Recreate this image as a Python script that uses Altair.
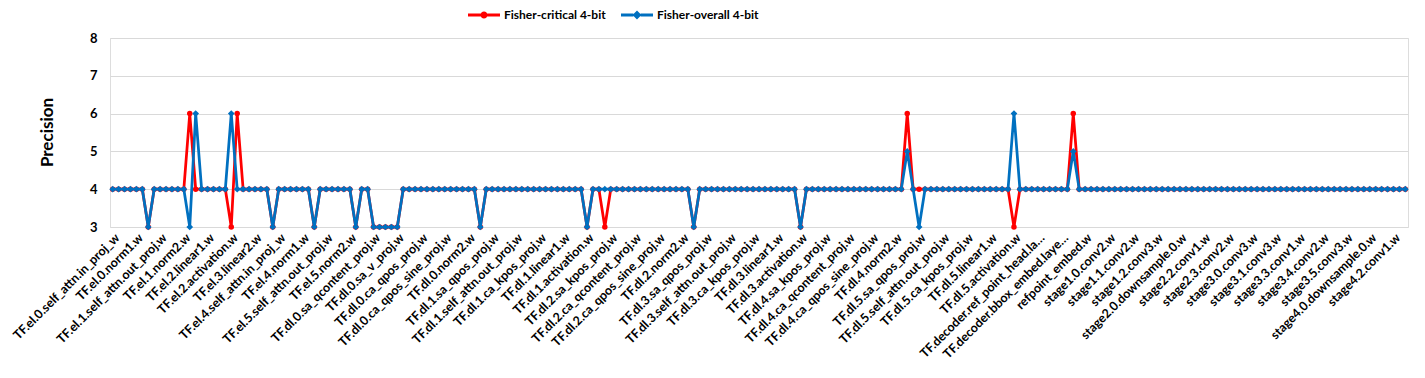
import altair as alt
import pandas as pd

# ---------------- data ----------------
CATEGORIES = [
    # encoder layers
    "TF.el.0.self_attn.in_proj_w", "TF.el.0.self_attn.out_proj.w", "TF.el.0.linear1.w", "TF.el.0.linear2.w", "TF.el.0.norm1.w", "TF.el.0.norm2.w", "TF.el.0.activation.w",
    "TF.el.1.self_attn.in_proj_w", "TF.el.1.self_attn.out_proj.w", "TF.el.1.linear1.w", "TF.el.1.linear2.w", "TF.el.1.norm1.w", "TF.el.1.norm2.w", "TF.el.1.activation.w",
    "TF.el.2.self_attn.in_proj_w", "TF.el.2.self_attn.out_proj.w", "TF.el.2.linear1.w", "TF.el.2.linear2.w", "TF.el.2.norm1.w", "TF.el.2.norm2.w", "TF.el.2.activation.w",
    "TF.el.3.self_attn.in_proj_w", "TF.el.3.self_attn.out_proj.w", "TF.el.3.linear1.w", "TF.el.3.linear2.w", "TF.el.3.norm1.w", "TF.el.3.norm2.w", "TF.el.3.activation.w",
    "TF.el.4.self_attn.in_proj_w", "TF.el.4.self_attn.out_proj.w", "TF.el.4.linear1.w", "TF.el.4.linear2.w", "TF.el.4.norm1.w", "TF.el.4.norm2.w", "TF.el.4.activation.w",
    "TF.el.5.self_attn.in_proj_w", "TF.el.5.self_attn.out_proj.w", "TF.el.5.linear1.w", "TF.el.5.linear2.w", "TF.el.5.norm1.w", "TF.el.5.norm2.w", "TF.el.5.activation.w",
    "TF.encoder.query_scale.layers.0.w", "TF.encoder.query_scale.layers.1.w",
    # decoder layer 0
    "TF.dl.0.sa_qcontent_proj.w", "TF.dl.0.sa_qpos_proj.w", "TF.dl.0.sa_kcontent_proj.w", "TF.dl.0.sa_kpos_proj.w", "TF.dl.0.sa_v_proj.w",
    "TF.dl.0.self_attn.out_proj.w", "TF.dl.0.norm1.w", "TF.dl.0.ca_qcontent_proj.w", "TF.dl.0.ca_qpos_proj.w", "TF.dl.0.ca_kcontent_proj.w",
    "TF.dl.0.ca_kpos_proj.w", "TF.dl.0.ca_v_proj.w", "TF.dl.0.ca_qpos_sine_proj.w", "TF.dl.0.cross_attn.out_proj.w", "TF.dl.0.linear1.w",
    "TF.dl.0.linear2.w", "TF.dl.0.norm2.w", "TF.dl.0.norm3.w", "TF.dl.0.activation.w",
    # decoder layer 1
    "TF.dl.1.sa_qcontent_proj.w", "TF.dl.1.sa_qpos_proj.w", "TF.dl.1.sa_kcontent_proj.w", "TF.dl.1.sa_kpos_proj.w", "TF.dl.1.sa_v_proj.w",
    "TF.dl.1.self_attn.out_proj.w", "TF.dl.1.norm1.w", "TF.dl.1.ca_qcontent_proj.w", "TF.dl.1.ca_kcontent_proj.w", "TF.dl.1.ca_kpos_proj.w",
    "TF.dl.1.ca_v_proj.w", "TF.dl.1.ca_qpos_sine_proj.w", "TF.dl.1.cross_attn.out_proj.w", "TF.dl.1.linear1.w", "TF.dl.1.linear2.w",
    "TF.dl.1.norm2.w", "TF.dl.1.norm3.w", "TF.dl.1.activation.w",
    # decoder layer 2
    "TF.dl.2.sa_qcontent_proj.w", "TF.dl.2.sa_qpos_proj.w", "TF.dl.2.sa_kcontent_proj.w", "TF.dl.2.sa_kpos_proj.w", "TF.dl.2.sa_v_proj.w",
    "TF.dl.2.self_attn.out_proj.w", "TF.dl.2.norm1.w", "TF.dl.2.ca_qcontent_proj.w", "TF.dl.2.ca_kcontent_proj.w", "TF.dl.2.ca_kpos_proj.w",
    "TF.dl.2.ca_v_proj.w", "TF.dl.2.ca_qpos_sine_proj.w", "TF.dl.2.cross_attn.out_proj.w", "TF.dl.2.linear1.w", "TF.dl.2.linear2.w",
    "TF.dl.2.norm2.w", "TF.dl.2.norm3.w", "TF.dl.2.activation.w",
    # decoder layer 3
    "TF.dl.3.sa_qcontent_proj.w", "TF.dl.3.sa_qpos_proj.w", "TF.dl.3.sa_kcontent_proj.w", "TF.dl.3.sa_kpos_proj.w", "TF.dl.3.sa_v_proj.w",
    "TF.dl.3.self_attn.out_proj.w", "TF.dl.3.norm1.w", "TF.dl.3.ca_qcontent_proj.w", "TF.dl.3.ca_kcontent_proj.w", "TF.dl.3.ca_kpos_proj.w",
    "TF.dl.3.ca_v_proj.w", "TF.dl.3.ca_qpos_sine_proj.w", "TF.dl.3.cross_attn.out_proj.w", "TF.dl.3.linear1.w", "TF.dl.3.linear2.w",
    "TF.dl.3.norm2.w", "TF.dl.3.norm3.w", "TF.dl.3.activation.w",
    # decoder layer 4
    "TF.dl.4.sa_qcontent_proj.w", "TF.dl.4.sa_qpos_proj.w", "TF.dl.4.sa_kcontent_proj.w", "TF.dl.4.sa_kpos_proj.w", "TF.dl.4.sa_v_proj.w",
    "TF.dl.4.self_attn.out_proj.w", "TF.dl.4.norm1.w", "TF.dl.4.ca_qcontent_proj.w", "TF.dl.4.ca_kcontent_proj.w", "TF.dl.4.ca_kpos_proj.w",
    "TF.dl.4.ca_v_proj.w", "TF.dl.4.ca_qpos_sine_proj.w", "TF.dl.4.cross_attn.out_proj.w", "TF.dl.4.linear1.w", "TF.dl.4.linear2.w",
    "TF.dl.4.norm2.w", "TF.dl.4.norm3.w", "TF.dl.4.activation.w",
    # decoder layer 5
    "TF.dl.5.sa_qcontent_proj.w", "TF.dl.5.sa_qpos_proj.w", "TF.dl.5.sa_kcontent_proj.w", "TF.dl.5.sa_kpos_proj.w", "TF.dl.5.sa_v_proj.w",
    "TF.dl.5.self_attn.out_proj.w", "TF.dl.5.norm1.w", "TF.dl.5.ca_qcontent_proj.w", "TF.dl.5.ca_kcontent_proj.w", "TF.dl.5.ca_kpos_proj.w",
    "TF.dl.5.ca_v_proj.w", "TF.dl.5.ca_qpos_sine_proj.w", "TF.dl.5.cross_attn.out_proj.w", "TF.dl.5.linear1.w", "TF.dl.5.linear2.w",
    "TF.dl.5.norm2.w", "TF.dl.5.norm3.w", "TF.dl.5.activation.w",
    # decoder heads
    "TF.decoder.norm.w", "TF.decoder.query_scale.layers.0.w", "TF.decoder.query_scale.layers.1.w",
    "TF.decoder.ref_point_head.layers.0.w", "TF.decoder.ref_point_head.layers.1.w",
    "TF.decoder.bbox_embed.layers.0.w", "TF.decoder.bbox_embed.layers.1.w", "TF.decoder.bbox_embed.layers.2.w",
    "class_embed.w", "input_proj.w", "label_enc.w", "refpoint_embed.w", "backbone.conv1.w", "backbone.bn1.w",
    # backbone
    "stage1.0.conv1.w", "stage1.0.conv2.w", "stage1.0.conv3.w", "stage1.0.downsample.0.w",
    "stage1.1.conv1.w", "stage1.1.conv2.w", "stage1.1.conv3.w",
    "stage1.2.conv1.w", "stage1.2.conv2.w", "stage1.2.conv3.w",
    "stage2.0.conv1.w", "stage2.0.conv2.w", "stage2.0.conv3.w", "stage2.0.downsample.0.w",
    "stage2.1.conv1.w", "stage2.1.conv2.w", "stage2.1.conv3.w",
    "stage2.2.conv1.w", "stage2.2.conv2.w", "stage2.2.conv3.w",
    "stage2.3.conv1.w", "stage2.3.conv2.w", "stage2.3.conv3.w",
    "stage3.0.conv1.w", "stage3.0.conv2.w", "stage3.0.conv3.w", "stage3.0.downsample.0.w",
    "stage3.1.conv1.w", "stage3.1.conv2.w", "stage3.1.conv3.w",
    "stage3.2.conv1.w", "stage3.2.conv2.w", "stage3.2.conv3.w",
    "stage3.3.conv1.w", "stage3.3.conv2.w", "stage3.3.conv3.w",
    "stage3.4.conv1.w", "stage3.4.conv2.w", "stage3.4.conv3.w",
    "stage3.5.conv1.w", "stage3.5.conv2.w", "stage3.5.conv3.w",
    "stage4.0.conv1.w", "stage4.0.conv2.w", "stage4.0.conv3.w", "stage4.0.downsample.0.w",
    "stage4.1.conv1.w", "stage4.1.conv2.w", "stage4.1.conv3.w",
    "stage4.2.conv1.w", "stage4.2.conv2.w", "stage4.2.conv3.w",
]

FISHER_CRITICAL = [
    4, 4, 4, 4, 4, 4, 3, 4, 4, 4, 4, 4, 4, 6, 4, 4, 4, 4, 4, 4,
    3, 6, 4, 4, 4, 4, 4, 3, 4, 4, 4, 4, 4, 4, 3, 4, 4, 4, 4, 4,
    4, 3, 4, 4, 3, 3, 3, 3, 3, 4, 4, 4, 4, 4, 4, 4, 4, 4, 4, 4,
    4, 4, 3, 4, 4, 4, 4, 4, 4, 4, 4, 4, 4, 4, 4, 4, 4, 4, 4, 4,
    3, 4, 4, 3, 4, 4, 4, 4, 4, 4, 4, 4, 4, 4, 4, 4, 4, 4, 3, 4,
    4, 4, 4, 4, 4, 4, 4, 4, 4, 4, 4, 4, 4, 4, 4, 4, 3, 4, 4, 4,
    4, 4, 4, 4, 4, 4, 4, 4, 4, 4, 4, 4, 4, 4, 6, 4, 4, 4, 4, 4,
    4, 4, 4, 4, 4, 4, 4, 4, 4, 4, 4, 4, 3, 4, 4, 4, 4, 4, 4, 4,
    4, 4, 6, 4, 4, 4, 4, 4, 4, 4, 4, 4, 4, 4, 4, 4, 4, 4, 4, 4,
    4, 4, 4, 4, 4, 4, 4, 4, 4, 4, 4, 4, 4, 4, 4, 4, 4, 4, 4, 4,
    4, 4, 4, 4, 4, 4, 4, 4, 4, 4, 4, 4, 4, 4, 4, 4, 4, 4, 4,
]

FISHER_OVERALL = [
    4, 4, 4, 4, 4, 4, 3, 4, 4, 4, 4, 4, 4, 3, 6, 4, 4, 4, 4, 4,
    6, 4, 4, 4, 4, 4, 4, 3, 4, 4, 4, 4, 4, 4, 3, 4, 4, 4, 4, 4,
    4, 3, 4, 4, 3, 3, 3, 3, 3, 4, 4, 4, 4, 4, 4, 4, 4, 4, 4, 4,
    4, 4, 3, 4, 4, 4, 4, 4, 4, 4, 4, 4, 4, 4, 4, 4, 4, 4, 4, 4,
    3, 4, 4, 4, 4, 4, 4, 4, 4, 4, 4, 4, 4, 4, 4, 4, 4, 4, 3, 4,
    4, 4, 4, 4, 4, 4, 4, 4, 4, 4, 4, 4, 4, 4, 4, 4, 3, 4, 4, 4,
    4, 4, 4, 4, 4, 4, 4, 4, 4, 4, 4, 4, 4, 4, 5, 4, 3, 4, 4, 4,
    4, 4, 4, 4, 4, 4, 4, 4, 4, 4, 4, 4, 6, 4, 4, 4, 4, 4, 4, 4,
    4, 4, 5, 4, 4, 4, 4, 4, 4, 4, 4, 4, 4, 4, 4, 4, 4, 4, 4, 4,
    4, 4, 4, 4, 4, 4, 4, 4, 4, 4, 4, 4, 4, 4, 4, 4, 4, 4, 4, 4,
    4, 4, 4, 4, 4, 4, 4, 4, 4, 4, 4, 4, 4, 4, 4, 4, 4, 4, 4,
]

SERIES = ["Fisher-critical 4-bit", "Fisher-overall 4-bit"]
COLORS = ["#FF0000", "#0070C0"]
Y_TICKS = [3, 4, 5, 6, 7, 8]
# every 4th category is labelled on the axis (as in the original chart)
TICK_LABELS = CATEGORIES[::4]

FONT = "Lato"

# legend symbols: line segment with the series marker in the middle
# (drawn in a 16px symbol box, the line reaching +-2 units = +-16px)
SYM_CIRCLE = ("M-2,-0.18L-0.4,-0.18L-0.4,0.18L-2,0.18Z "
              "M0.4,-0.18L2,-0.18L2,0.18L0.4,0.18Z "
              "M-0.44,0A0.44,0.44,0,1,1,0.44,0A0.44,0.44,0,1,1,-0.44,0Z")
SYM_DIAMOND = ("M-2,-0.18L-0.45,-0.18L-0.45,0.18L-2,0.18Z "
               "M0.45,-0.18L2,-0.18L2,0.18L0.45,0.18Z "
               "M0,-0.56L0.56,0L0,0.56L-0.56,0Z")

rows = []
for i, c in enumerate(CATEGORIES):
    rows.append({"category": c, "series": SERIES[0], "value": FISHER_CRITICAL[i]})
    rows.append({"category": c, "series": SERIES[1], "value": FISHER_OVERALL[i]})
df = pd.DataFrame(rows)
legend_df = pd.DataFrame({"category": [CATEGORIES[0]] * 2, "series": SERIES, "value": [100, 100]})

x_enc = alt.X(
    "category:N",
    sort=CATEGORIES,
    scale=alt.Scale(type="point", padding=0.45),
    axis=alt.Axis(
        values=TICK_LABELS, labelAngle=-45, labelOverlap=False, labelLimit=174,
        labelFont=FONT, labelFontWeight="bold", labelFontSize=12.5, labelColor="#000000",
        domain=False, ticks=False, labelPadding=4, title=None, grid=False,
    ),
)
y_enc = alt.Y(
    "value:Q",
    scale=alt.Scale(domain=[3, 8], nice=False, zero=False),
    axis=alt.Axis(
        values=Y_TICKS, format="d", title="Precision", grid=True, gridColor="#D9D9D9",
        domain=False, ticks=False, labelPadding=13, labelOverlap=False,
        labelFont=FONT, labelFontWeight="bold", labelFontSize=13, labelColor="#000000",
        titleFont=FONT, titleFontWeight="bold", titleFontSize=17, titleColor="#000000",
        titleX=-63, titleY=94, titleAngle=270, titleAlign="center", titleBaseline="middle",
    ),
)

base = alt.Chart(df).encode(x=x_enc, y=y_enc)

red_line = base.transform_filter(alt.datum.series == SERIES[0]).mark_line(
    color=COLORS[0], strokeWidth=2.75)
red_pts = base.transform_filter(alt.datum.series == SERIES[0]).mark_point(
    shape="circle", filled=True, size=30, color=COLORS[0], opacity=1)
blue_line = base.transform_filter(alt.datum.series == SERIES[1]).mark_line(
    color=COLORS[1], strokeWidth=2.75)
blue_pts = base.transform_filter(alt.datum.series == SERIES[1]).mark_point(
    shape="diamond", filled=True, size=45, color=COLORS[1], opacity=1)

legend_kw = dict(
    title=None, orient="none", legendX=366, legendY=-31, direction="horizontal",
    symbolSize=256, symbolStrokeWidth=0, labelFont=FONT, labelFontWeight="bold",
    labelFontSize=12, labelColor="#000000", columnPadding=15, labelOffset=12,
)
legend_layer = alt.Chart(legend_df).mark_point(filled=True, clip=True, opacity=1).encode(
    x=x_enc,
    y=y_enc,
    color=alt.Color("series:N", scale=alt.Scale(domain=SERIES, range=COLORS),
                    legend=alt.Legend(**legend_kw)),
    shape=alt.Shape("series:N", scale=alt.Scale(domain=SERIES, range=[SYM_CIRCLE, SYM_DIAMOND]),
                    legend=alt.Legend(**legend_kw)),
)

chart = alt.layer(red_line, red_pts, blue_line, blue_pts, legend_layer).properties(
    width=1298, height=189,
    autosize=alt.AutoSizeParams(type="none"),
    padding={"left": 102, "top": 30, "right": 9, "bottom": 143},
).configure_view(stroke=None).configure(background="white")

chart.save("out.html", embed_options={"renderer": "svg", "actions": False})
